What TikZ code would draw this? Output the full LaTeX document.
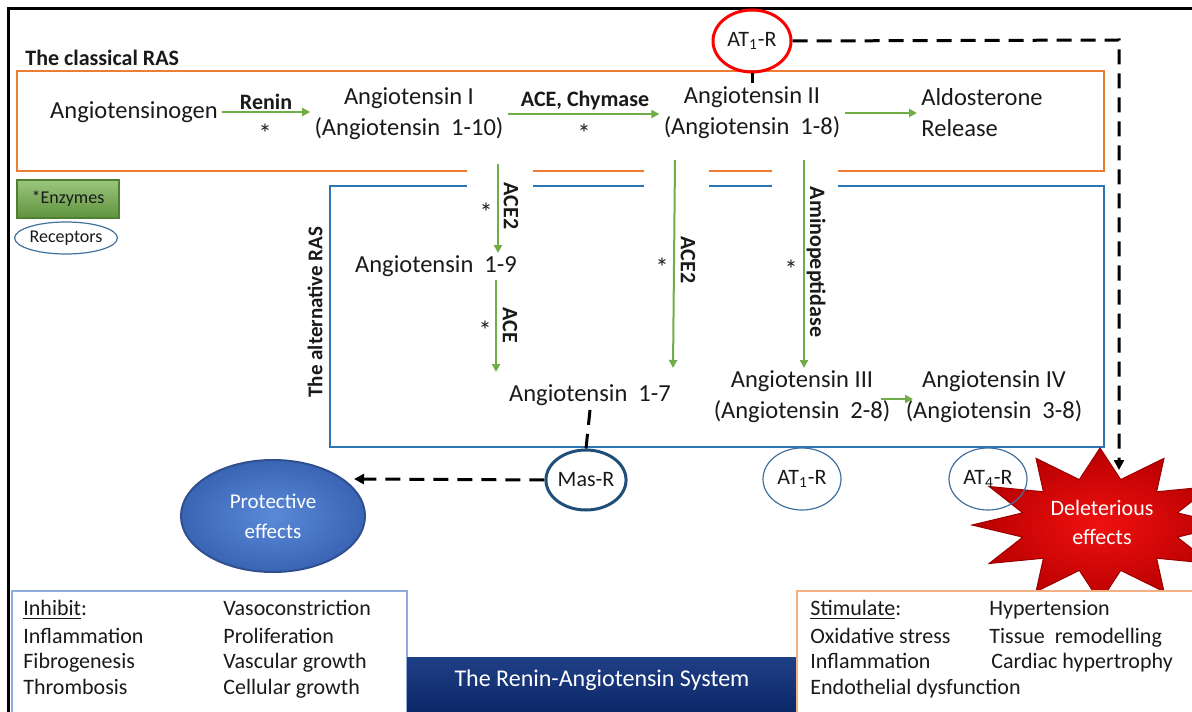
\documentclass[tikz,border=0pt]{standalone}
\usepackage{fontspec}
\setmainfont{Carlito}
\usetikzlibrary{arrows.meta,shapes.geometric,calc}
\definecolor{grn}{HTML}{70AD47}
\definecolor{grnd}{HTML}{507E32}
\definecolor{orng}{HTML}{ED7D31}
\definecolor{blu}{HTML}{2E75B6}
\definecolor{recb}{HTML}{41719C}
\definecolor{masb}{HTML}{1F4E79}
\definecolor{navy}{HTML}{0A2463}
\definecolor{navyl}{HTML}{1F3F86}
\definecolor{inhb}{HTML}{8FAADC}
\definecolor{stib}{HTML}{F4B183}
\definecolor{protin}{HTML}{5A8AD8}
\definecolor{protout}{HTML}{3A64B4}
\definecolor{protbd}{HTML}{2F4F8F}
\definecolor{starin}{HTML}{F01010}
\definecolor{starout}{HTML}{B80000}
\definecolor{starbd}{HTML}{9A0000}
\definecolor{txt}{HTML}{1A1A1A}
\begin{document}
\begin{tikzpicture}[x=0.5pt,y=-0.5pt,
  main/.style={font=\fontsize{12.25}{15.5}\selectfont, inner sep=2pt, text=txt},
  lbl/.style={font=\bfseries\fontsize{11}{13}\selectfont, inner sep=0pt, text=txt},
  astk/.style={font=\fontsize{13}{15}\selectfont, inner sep=0pt, text=txt},
  garrow/.style={draw=grn, line width=1pt, -{Triangle[length=4pt,width=4pt]}},
  dashk/.style={draw=black, line width=1.5pt, dash pattern=on 7.5pt off 4.5pt},
  dtip/.style={-{Triangle[length=5pt,width=5pt]}},
  rec/.style={ellipse, draw=recb, line width=0.6pt, minimum width=39pt, minimum height=31pt, inner sep=0pt, font=\fontsize{11}{13}\selectfont, text=txt},
  boxtxt/.style={anchor=base west, inner sep=0pt, font=\fontsize{11}{13}\selectfont, text=txt},
  oline/.style={draw=orng, line width=1pt},
  bline/.style={draw=blu, line width=1pt},
]
\useasboundingbox (0,0) rectangle (1192,711);
\clip (0,0) rectangle (1192,711);
\fill[white] (0,0) rectangle (1192,711);

% outer frame
\draw[black, line width=1.5pt] (8,720) -- (8,9) -- (1200,9);

% title classical
\node[lbl, anchor=west, font=\bfseries\fontsize{11}{13}\selectfont] (classical) at (25,58) {The classical RAS};

% orange box with gaps
\draw[oline] (467,171) -- (17,171) -- (17,71) -- (1104,71) -- (1104,171) -- (838,171);
\draw[oline] (533,171) -- (644,171);
\draw[oline] (709,171) -- (772,171);
% blue box with gaps
\draw[bline] (467,186) -- (330,186) -- (330,447) -- (1104,447) -- (1104,186) -- (838,186);
\draw[bline] (533,186) -- (644,186);
\draw[bline] (709,186) -- (772,186);

% main texts
\node[main] (agen) at (134,112) {Angiotensinogen};
\node[main, align=center] (ang1) at (409,114) {Angiotensin I\\(Angiotensin\ \ 1-10)};
\node[main, align=center] (ang2) at (752,113) {Angiotensin II\\(Angiotensin\ \ 1-8)};
\node[main, align=left, anchor=west] (aldo) at (917,113) {Aldosterone\\Release};
\node[main] (a19) at (436,266) {Angiotensin\ \ 1-9};
\node[main] (a17) at (590,395) {Angiotensin\ \ 1-7};
\node[main, align=center] (ang3) at (802,397) {Angiotensin III\\(Angiotensin\ \ 2-8)};
\node[main, align=center] (ang4) at (994,397) {Angiotensin IV\\(Angiotensin\ \ 3-8)};

% classical arrows
\draw[garrow] (agen.east) -- (agen.east -| ang1.west);
\node[lbl] (renin) at (266,102) {Renin};
\node[astk] (s1) at (265,133) {*};
\draw[garrow] (ang1.east) -- (ang1.east -| ang2.west);
\node[lbl] (acechy) at (585,101) {ACE, Chymase};
\node[astk] (s2) at (584,133) {*};
\draw[garrow] (ang2.east) -- (ang2.east -| aldo.west);

% alternative arrows
\coordinate (p1s) at (498,164);
\coordinate (p1e) at (498,253);
\coordinate (p2s) at (496,280);
\coordinate (p2e) at (496,372);
\coordinate (p3s) at (675,160);
\coordinate (p3e) at (673,368);
\coordinate (p4s) at (804,160);
\coordinate (p4e) at (804,368);
\coordinate (p5s) at (881,399);
\coordinate (p5e) at (913,399);
\draw[garrow] (p1s) -- (p1e);
\draw[garrow] (p2s) -- (p2e);
\draw[garrow] (p3s) -- (p3e);
\draw[garrow] (p4s) -- (p4e);
\draw[garrow] (p5s) -- (p5e);

\node[lbl, rotate=-90] (l1) at (511,206) {ACE2};
\node[astk] (s3) at (486,212) {*};
\node[lbl, rotate=-90] (l2) at (510,325) {ACE};
\node[astk] (s4) at (485,330) {*};
\node[lbl, rotate=-90] (l3) at (688,260) {ACE2};
\node[astk] (s5) at (662,267) {*};
\node[lbl, rotate=-90] (l4) at (816,262) {Aminopeptidase};
\node[astk] (s6) at (791,269) {*};
\node[lbl, rotate=90, font=\bfseries\fontsize{10.5}{12}\selectfont] (alt) at (315,312) {The alternative RAS};

% legend
\node[draw=grnd, line width=0.8pt, top color=grn!70!white, bottom color=grn!85!black, minimum width=51pt, minimum height=19pt, inner sep=0pt, font=\fontsize{9}{11}\selectfont, text=txt] (enz) at (68,199) {*Enzymes};
\node[rec, minimum width=50pt, minimum height=16pt, font=\fontsize{9}{11}\selectfont] (recp) at (66,238) {Receptors};

% receptors
\node[rec, draw=red, line width=1.5pt] (at1t) at (752,41) {AT\textsubscript{1}-R};
\draw[black, line width=1.5pt] (at1t.south) -- (at1t.south |- ang2.north);
\node[rec, draw=masb, line width=1.5pt, minimum width=40pt, minimum height=30pt] (masr) at (586,480) {Mas-R};
\node[rec] (at1b) at (802,479) {AT\textsubscript{1}-R};

% deleterious star
\shadedraw[inner color=starin, outer color=starout, draw=starbd, line width=0.5pt]
  (1228,525) \foreach \k in {1,...,12} { -- ({1100+80*cos(\k*30-15)},{525-47*sin(\k*30-15)}) -- ({1100+128*cos(\k*30)},{525-77*sin(\k*30)}) } -- cycle;
\node[align=center, text=white, font=\fontsize{11}{14.5}\selectfont, inner sep=0pt] (delet) at (1102,522) {Deleterious\\effects};
\node[rec, fill=none] (at4) at (988,479) {AT\textsubscript{4}-R};

% protective
\node[ellipse, shade, inner color=protin, outer color=protout, draw=protbd, line width=1pt, minimum width=92pt, minimum height=56pt, inner sep=0pt, align=center, text=white, font=\fontsize{10.5}{15}\selectfont] (prot) at (273,516) {Protective\\effects};

% dashed connectors
\coordinate (dcorner) at (1119,40);
\coordinate (delend) at (1119,470);
\draw[dashk, dtip] (at1t.east) -- (dcorner) -- (delend);
\coordinate (protend) at (354,479);
\draw[dashk, dtip] (masr.west) -- (protend);
\draw[dashk] (a17.south) -- (masr.north);

% bottom boxes
\draw[draw=inhb, line width=0.8pt, fill=white] (12,591) rectangle (407,720);
\shade[top color=navyl, bottom color=navy] (407,657) rectangle (797,720);
\draw[draw=stib, line width=0.8pt, fill=white] (797,591) rectangle (1200,720);
\node[text=white, font=\fontsize{12}{14}\selectfont, inner sep=0pt] (title) at (602,680) {The Renin-Angiotensin System};

\node[boxtxt] (inh) at (23,615) {\underline{Inhibit}:};
\node[boxtxt] (inh1) at (23,643) {Inflammation};
\node[boxtxt] (inh2) at (23,668) {Fibrogenesis};
\node[boxtxt] (inh3) at (23,694) {Thrombosis};
\node[boxtxt] (inh4) at (223,615) {Vasoconstriction};
\node[boxtxt] (inh5) at (223,643) {Proliferation};
\node[boxtxt] (inh6) at (223,668) {Vascular growth};
\node[boxtxt] (inh7) at (223,694) {Cellular growth};

\node[boxtxt] (sti) at (810,615) {\underline{Stimulate}:};
\node[boxtxt] (sti1) at (810,643) {Oxidative stress};
\node[boxtxt] (sti2) at (810,668) {Inflammation};
\node[boxtxt] (sti3) at (810,694) {Endothelial dysfunction};
\node[boxtxt] (sti4) at (989,615) {Hypertension};
\node[boxtxt] (sti5) at (989,643) {Tissue\ \ remodelling};
\node[boxtxt] (sti6) at (991,668) {Cardiac hypertrophy};
\end{tikzpicture}
\end{document}
